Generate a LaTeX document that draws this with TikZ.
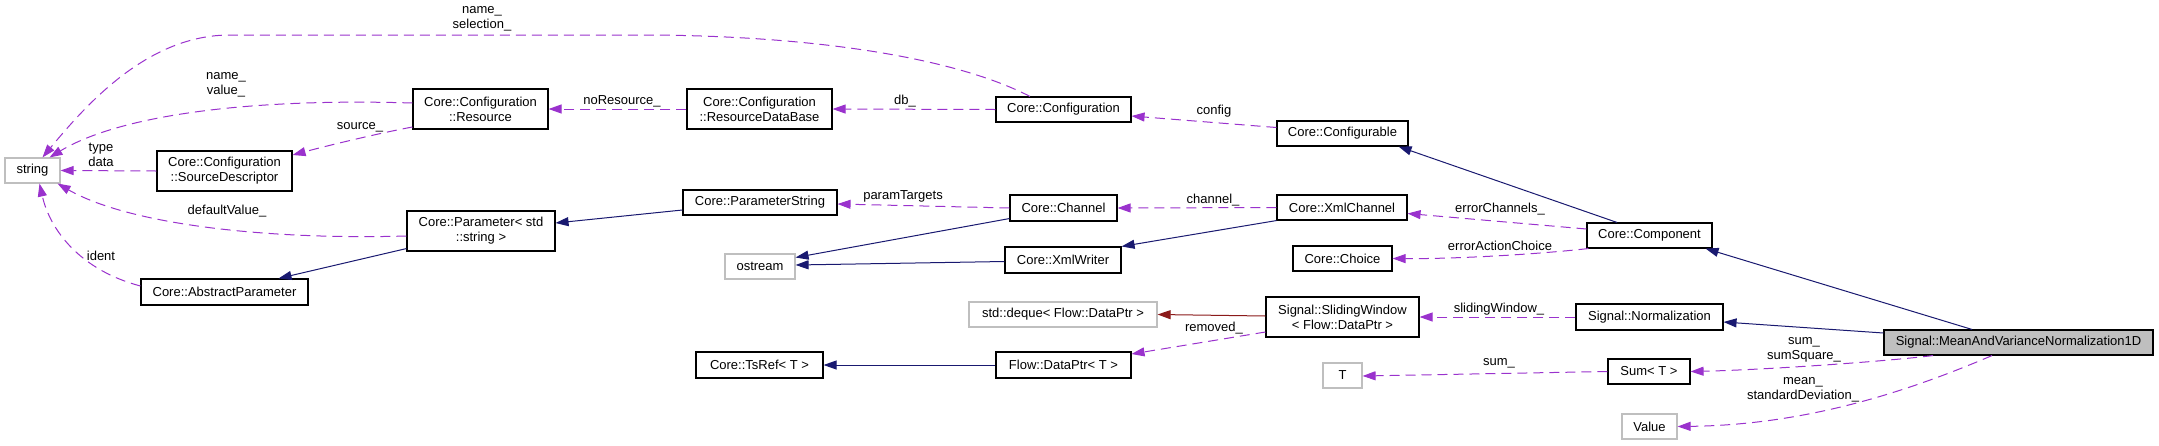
\documentclass[tikz,border=0pt]{standalone}
\usepackage{fontspec}
\setmainfont{Liberation Sans}
\usetikzlibrary{arrows.meta}
\definecolor{inhblue}{HTML}{191970}
\definecolor{usepurple}{HTML}{9A32CD}
\definecolor{tplred}{HTML}{8B1A1A}
\definecolor{extgray}{HTML}{BFBFBF}
\begin{document}
\begin{tikzpicture}[x=1pt, y=-1pt, font=\fontsize{13}{15}\selectfont,
  cls/.style={draw=black, line width=1.1pt, align=center, inner sep=0pt},
  ext/.style={cls, draw=extgray},
  main/.style={cls, fill=extgray},
  inh/.style={draw=inhblue, line width=1pt, -{Triangle[length=13pt, width=9pt]}},
  uses/.style={draw=usepurple, line width=1pt, dash pattern=on 10pt off 6pt,
    -{Triangle[length=13pt, width=9pt]}},
  tpl/.style={draw=tplred, line width=1pt, -{Triangle[length=13pt, width=9pt]}},
  lbl/.style={align=center, inner sep=0pt}]
  \useasboundingbox (0,0) rectangle (2159,445);
  % classes
  \foreach \nm/\xc/\yc/\bw/\bh/\sty/\txt in {
    string/32.5/170.5/55/25/ext/{string},
    res/480.5/109/135/40/cls/{Core::Configuration\\::Resource},
    srcd/224.5/171/135/40/cls/{Core::Configuration\\::SourceDescriptor},
    param/481/231/148/40/cls/{Core::Parameter< std\\::string >},
    absp/224.5/292/167/26/cls/{Core::AbstractParameter},
    rdb/759.5/109/145/40/cls/{Core::Configuration\\::ResourceDataBase},
    pstr/760/202.5/154/25/cls/{Core::ParameterString},
    ostr/760/266.5/70/25/ext/{ostream},
    tsref/759.5/365/127/26/cls/{Core::TsRef< T >},
    conf/1063.5/109.5/135/25/cls/{Core::Configuration},
    chan/1063.5/208/107/26/cls/{Core::Channel},
    xmlw/1063/260/116/26/cls/{Core::XmlWriter},
    deque/1063/314.5/188/25/ext/{std::deque< Flow::DataPtr >},
    dptr/1063.5/365/135/26/cls/{Flow::DataPtr< T >},
    cfgb/1342.5/133.5/131/25/cls/{Core::Configurable},
    xmlc/1342/207.5/130/25/cls/{Core::XmlChannel},
    choice/1342.5/258.5/99/25/cls/{Core::Choice},
    slide/1342.5/317/153/40/cls/{Signal::SlidingWindow\\< Flow::DataPtr >},
    tparam/1342.5/375.5/39/25/ext/{T},
    comp/1649.5/235.5/125/25/cls/{Core::Component},
    norm/1649.5/317/147/26/cls/{Signal::Normalization},
    sum/1649/371.5/82/25/cls/{Sum< T >},
    value/1649.5/426.5/55/25/ext/{Value},
    mvn/2018.5/342.5/269/25/main/{Signal::MeanAndVarianceNormalization1D}}
    \node[\sty, minimum width=\bw pt, minimum height=\bh pt] (\nm) at (\xc,\yc) {\txt};

  % inheritance
  \draw[inh] ([xshift=-32.5pt]comp.north) -- ([xshift=-10pt]cfgb.south east);
  \draw[inh] ([xshift=-46.5pt]mvn.north) -- ([xshift=-7pt]comp.south east);
  \draw[inh] ([yshift=9.5pt]mvn.west) -- ([yshift=-5pt]norm.east);
  \draw[inh] (xmlc.south west) -- (xmlw.north east);
  \draw[inh] ([yshift=3pt]chan.south west) -- ([yshift=9pt]ostr.east);
  \draw[inh] ([yshift=-1.5pt]xmlw.west) -- ([yshift=1.5pt]ostr.east);
  \draw[inh] ([yshift=-7.5pt]pstr.west) -- ([yshift=8pt]param.east);
  \draw[inh] ([yshift=3pt]param.south west) -- ([xshift=-30pt]absp.north east);
  \draw[inh] (dptr.west) -- (tsref.east);
  \draw[tpl] ([yshift=1pt]slide.west) -- (deque.east);

  % members
  \draw[uses] ([xshift=-33.5pt]conf.north) .. controls (950,55) and (800,35) .. (640,35)
    -- (230,35) .. controls (150,35) and (90,100) .. ([xshift=10pt]string.north);
  \draw[uses] ([yshift=6pt]res.west) .. controls (250,98) and (120,115) .. ([xshift=17pt]string.north);
  \draw[uses] ([yshift=-18pt]res.west) .. controls (380,133) and (330,145) .. ([yshift=16pt]srcd.east);
  \draw[uses] (srcd.west) -- (string.east);
  \draw[uses] ([yshift=-5pt]param.west) .. controls (270,240) and (130,225) .. ([xshift=-3pt]string.south east);
  \draw[uses] ([yshift=6pt]absp.west) .. controls (80,270) and (50,230) .. ([xshift=7pt]string.south);
  \draw[uses] (rdb.west) -- (res.east);
  \draw[uses] (conf.west) -- (rdb.east);
  \draw[uses] ([yshift=6pt]cfgb.west) -- ([yshift=-6.5pt]conf.east);
  \draw[uses] (chan.west) -- ([yshift=-1.5pt]pstr.east);
  \draw[uses] (xmlc.west) -- (chan.east);
  \draw[uses] ([yshift=6.5pt]comp.west) -- ([yshift=-6pt]xmlc.east);
  \draw[uses] ([xshift=2pt]comp.south west) .. controls (1530,255) and (1450,259) .. (choice.east);
  \draw[uses] (norm.west) -- (slide.east);
  \draw[uses] ([yshift=-15pt]slide.west) -- ([yshift=11pt]dptr.east);
  \draw[uses] (sum.west) -- ([yshift=-0.5pt]tparam.east);
  \draw[uses] ([xshift=-85.5pt]mvn.south) .. controls (1880,362) and (1760,370) .. (sum.east);
  \draw[uses] ([xshift=-26.5pt]mvn.south) .. controls (1900,395) and (1800,425) .. (value.east);

  \node[lbl] (l-namesel) at (482,19) {name\_\\selection\_};
  \node[lbl] (l-nameval) at (226,85) {name\_\\value\_};
  \node[lbl] (l-source) at (360,127) {source\_};
  \node[lbl] (l-typedata) at (101,155) {type\\data};
  \node[lbl] (l-default) at (227,211) {defaultValue\_};
  \node[lbl] (l-ident) at (101,256) {ident};
  \node[lbl] (l-nores) at (622,101) {noResource\_};
  \node[lbl] (l-db) at (905,101) {db\_};
  \node[lbl] (l-config) at (1214,111) {config};
  \node[lbl] (l-targets) at (903,196) {paramTargets};
  \node[lbl] (l-channel) at (1213,200) {channel\_};
  \node[lbl] (l-errch) at (1500,209) {errorChannels\_};
  \node[lbl] (l-errac) at (1500,246) {errorActionChoice};
  \node[lbl] (l-sliding) at (1499,309) {slidingWindow\_};
  \node[lbl] (l-removed) at (1214,328) {removed\_};
  \node[lbl] (l-sum) at (1499,363) {sum\_};
  \node[lbl] (l-sumsq) at (1804,350) {sum\_\\sumSquare\_};
  \node[lbl] (l-meansd) at (1803,390) {mean\_\\standardDeviation\_};
\end{tikzpicture}
\end{document}
